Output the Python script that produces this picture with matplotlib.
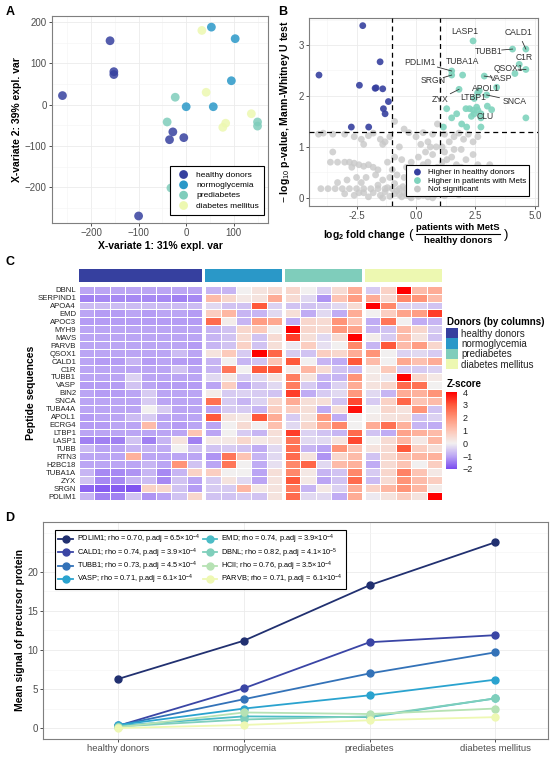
import numpy as np
import matplotlib
matplotlib.use("Agg")
import matplotlib.pyplot as plt
from matplotlib.colors import LinearSegmentedColormap, Normalize
from matplotlib.patches import Rectangle
from matplotlib.lines import Line2D
from matplotlib.ticker import MultipleLocator

plt.rcParams['font.family'] = ['Liberation Sans', 'DejaVu Sans']
plt.rcParams['mathtext.fontset'] = 'custom'
plt.rcParams['mathtext.rm'] = 'Liberation Sans'
plt.rcParams['mathtext.it'] = 'Liberation Sans:italic'
plt.rcParams['mathtext.bf'] = 'Liberation Sans:bold'

W, H = 550, 757

# ---------------- data ----------------
groups = ["healthy donors", "normoglycemia", "prediabetes", "diabetes mellitus"]
group_colors = ["#36409f", "#2a98c8", "#7fcdbb", "#edf8b1"]
group_sizes = [8, 5, 5, 5]

# panel A: sPLS-DA scores
a_healthy_x = [-260, -160, -152, -152, -100, -35, -28, -5]
a_healthy_y = [22, 155, 80, 73, -270, -85, -66, -80]
a_normo_x = [53, 103, 95, 0, 57]
a_normo_y = [188, 160, 58, -5, -5]
a_pred_x = [-23, -40, -32, 150, 150]
a_pred_y = [18, -42, -202, -42, -52]
a_diab_x = [33, 42, 137, 83, 77]
a_diab_y = [180, 30, -22, -45, -55]

# panel B: volcano
b_up_healthy_x = [-4.08, -2.24, -2.38, -1.51, -1.68, -1.72, -1.40, -1.16, -1.37, -1.30, -2.72, -1.99]
b_up_healthy_y = [2.41, 3.38, 2.21, 2.67, 2.16, 2.15, 2.14, 1.89, 1.75, 1.65, 1.39, 1.39]
b_up_mets_x = [2.40, 4.62, 4.06, 4.34, 4.62, 4.16, 1.50, 1.50, 1.96, 2.87, 3.39, 2.66, 2.59,
               1.81, 2.97, 2.45, 2.25, 2.40, 2.55, 1.29, 1.71, 1.50, 1.15, 1.92, 2.13, 2.73,
               2.73, 3.18, 3.00, 4.62, 2.73, 2.33, 2.45, 2.10, 2.60]
b_up_mets_y = [3.08, 2.92, 2.92, 2.62, 2.52, 2.44, 2.49, 2.41, 2.41, 2.39, 2.17, 2.10, 2.06,
               2.13, 2.02, 1.95, 1.75, 1.72, 1.78, 1.75, 1.65, 1.57, 1.39, 1.45, 1.39, 1.65,
               1.57, 1.73, 1.80, 1.57, 1.39, 1.60, 1.65, 1.75, 1.72]
b_ns_x = [-4.1, -3.9, -3.5, -3.0, -2.6, -2.3, -2.0, -1.8, -1.5, -1.3, -1.1, -0.9, -0.5, -0.3, 0.0,
          0.3, 0.5, 0.7, 0.9, 0.85, 0.6, 1.2, 1.4, 1.6, 1.8, 2.0, 2.2, 2.4, 2.6, -1.4, -2.2, -0.7,
          0.2, 1.1, 1.9, 0.4, -3.5,
          -3.6, -3.3, -3.0, -2.8, -2.6, -2.4, -2.2, -2.0, -1.8, -1.6, -1.2, -0.9, -0.6, -0.4, -0.2,
          0.1, 0.3, 0.5, 0.7, 0.9, 1.1, 1.3, 1.5, 1.7, 1.9, 2.1, 2.3, 2.6, 2.8, 3.1, 1.2, 1.6, 2.4,
          -1.0, 0.0, -2.7,
          -3.3, -2.9, -2.5, -2.1, -1.7, -1.4, -1.1, -0.8, -0.5, -0.2, 0.1, 0.4, 0.7, 1.0, 1.3, 1.6,
          1.9, 2.3, 2.7, -1.6, -0.9, -0.3, 0.2, 0.6, -2.3, -1.2, 1.1,
          -4.0, -3.7, -3.4, -3.1, -2.8, -2.5, -2.2, -1.9, -1.6, -1.3, -1.0, -0.7, -0.4,
          -3.0, -2.6, -2.4, -2.0, -1.8, -1.5, -1.3, -1.1, -0.9, -0.8, -0.6, -0.5, -0.4, -0.3, -0.2,
          -0.1, 0.0, 0.1, 0.2, 0.3, 0.4, 0.5, 0.6, 0.8, 1.0, 1.2, 1.5, 1.8, 2.1, -0.7, -0.25, 0.05,
          -2.2, -1.4, 0.7, -0.05, -0.55]
b_ns_y = [1.25, 1.27, 1.25, 1.25, 1.2, 1.15, 1.22, 1.27, 1.15, 1.1, 1.2, 1.5, 1.35, 1.28, 1.2,
          1.28, 1.1, 1.25, 1.45, 1.0, 1.0, 1.25, 1.1, 1.2, 1.27, 1.15, 1.25, 1.1, 1.2, 1.05, 1.05, 1.0,
          1.05, 1.0, 0.95, 0.9, 0.9,
          0.7, 0.7, 0.7, 0.7, 0.68, 0.65, 0.62, 0.65, 0.6, 0.55, 0.7, 0.8, 0.75, 0.6, 0.7,
          0.8, 0.65, 0.7, 0.85, 0.6, 0.7, 0.75, 0.8, 0.65, 0.6, 0.75, 0.55, 0.65, 0.55, 0.65, 0.9, 0.95, 0.85,
          0.55, 0.5, 0.6,
          0.3, 0.35, 0.4, 0.4, 0.45, 0.35, 0.4, 0.45, 0.4, 0.45, 0.35, 0.4, 0.3, 0.45, 0.35, 0.4,
          0.3, 0.3, 0.25, 0.25, 0.28, 0.3, 0.25, 0.2, 0.3, 0.2, 0.25,
          0.18, 0.18, 0.18, 0.18, 0.18, 0.18, 0.18, 0.18, 0.18, 0.18, 0.18, 0.18, 0.18,
          0.08, 0.05, 0.1, 0.02, 0.1, 0.05, 0.12, 0.03, 0.08, 0.14, 0.02, 0.1, 0.05, 0.12, 0.0,
          0.08, 0.14, 0.03, 0.1, 0.05, 0.13, 0.02, 0.09, 0.06, 0.12, 0.04, 0.1, 0.06, 0.1, 0.06, 0.03, 0.06,
          0.1, 0.0, 0.0, 0.2, 0.22]
b_labels = ["LASP1", "CALD1", "TUBB1", "C1R", "QSOX1", "PDLIM1", "TUBA1A", "SRGN", "VASP",
            "APOL1", "ZYX", "LTBP1", "SNCA", "CLU"]
b_label_x = [2.06, 4.29, 3.05, 4.55, 3.90, 0.17, 1.97, 0.71, 3.60, 2.95, 1.00, 2.40, 4.16, 2.90]
b_label_y = [3.27, 3.25, 2.88, 2.76, 2.53, 2.66, 2.68, 2.30, 2.34, 2.15, 1.94, 1.96, 1.90, 1.59]
b_point_x = [2.40, 4.62, 4.06, 4.34, 4.62, 1.50, 1.96, 1.50, 2.87, 2.66, 1.81, 2.59, 2.97, 2.73]
b_point_y = [3.08, 2.92, 2.92, 2.62, 2.52, 2.49, 2.41, 2.41, 2.39, 2.10, 2.13, 2.06, 2.02, 1.65]

# panel C: z-scores, rows = peptides, columns = donors
peptides = ["DBNL", "SERPIND1", "APOA4", "EMD", "APOC3", "MYH9", "MAVS", "PARVB", "QSOX1",
            "CALD1", "C1R", "TUBB1", "VASP", "BIN2", "SNCA", "TUBA4A", "APOL1", "ECRG4",
            "LTBP1", "LASP1", "TUBB", "RTN3", "H2BC18", "TUBA1A", "ZYX", "SRGN", "PDLIM1"]
z_healthy = [
    [-1, -1, -1, -1, -1, -1, -1, -1],
    [-1.4, -1.3, -1.3, -1.3, -1.3, -1.3, -1.4, -1.3],
    [-0.7, -0.7, -0.7, -0.7, -0.7, -0.7, -0.7, -0.7],
    [-1, -1.1, -1.1, -1, -1.1, -1, -1, -1.1],
    [-1.1, -1.1, -1.1, -1.1, -1.1, -1.1, -1.1, -1.1],
    [-1, -1, -1, -1, -1, -1, -1, -1],
    [-1, -1, -1, -1, -1, -1, -1, -1],
    [-1, -1, -1, -1, -1, -1, -1, -1.1],
    [-1, -1, -1, -1, -1, -1, -0.7, -1],
    [-1, -1.1, -1.1, -0.8, -1.1, -1, -1.1, -1.1],
    [-1, -1, -1, -1, -1, -1, -0.6, -1],
    [-1, -1, -1, -0.4, -1, -1, -1, -1],
    [-1.1, -1.1, -1.1, -0.6, -1, -1.1, -1.1, -1.1],
    [-1, -1.1, -1.1, -1, -0.5, -1, -1, -1],
    [-1, -1, -1, -1, -0.5, -1, -1, -1],
    [-1, -1, -1, -1, 0, -0.5, -1, -1],
    [-1.1, -1, -1, -0.7, -0.5, -1, -1, -1],
    [-1.1, -1.1, -1, -1, 1.2, -1, -1.1, -1],
    [-1, -1, -1, -1, -1, -1, -1, 1.0],
    [-1.4, -1.4, -1.4, -0.6, -1.4, -0.8, 0.3, -1.4],
    [-0.7, -1, -1, -0.8, -0.8, -0.9, 0, -0.6],
    [-1, -1, -1, 1.4, -1, -1, -1, -1],
    [-1, -1, -1, -1, -0.8, -1, 2.0, -0.6],
    [-0.8, -1.3, -1.3, -1.2, -0.8, -1.3, -0.8, 0.7],
    [-0.6, -1.3, -1.3, -0.8, -0.7, -1.3, -0.6, -1],
    [-1.7, -1.8, -1.8, -1.9, 0.7, 0.6, -0.6, -1.1],
    [-0.8, -1.4, -1.4, -0.6, -1.2, -1.0, -0.6, 0.6],
]
z_normo = [
    [-0.8, -0.8, 0, 0.3, 0.5],
    [1.2, 0.6, 0.2, 0.3, 1.5],
    [-0.3, -0.6, -0.6, 3, -0.4],
    [0.8, 1.3, -0.8, -0.8, -0.3],
    [2.7, 0.1, -0.8, 1.8, 1.6],
    [-0.8, -0.6, 0.6, 0.9, 0],
    [-0.8, -0.6, 0.5, -0.6, 0.5],
    [-0.8, -0.6, 0.7, -0.6, 0.4],
    [0.3, 0.9, -0.5, 4, 2.8],
    [-0.8, 0, -0.8, -0.6, 1.0],
    [-0.8, 2.5, 0, 3, 3],
    [-0.3, 0.2, -0.5, -0.3, 0.3],
    [-1, 0.8, -1, -0.6, -0.3],
    [0.1, -0.5, -0.4, -0.5, -0.6],
    [2.6, -0.5, -0.8, -0.4, 0.6],
    [-1, -0.5, -0.5, -0.8, 0.8],
    [3.0, 0.3, 0.2, 3, 1.5],
    [-1, 0, 0.5, 0, 1.1],
    [-1, 0, -0.5, -0.8, 0.4],
    [0.2, 0.2, 0.6, 0.2, 0.3],
    [-0.6, -0.5, -0.6, -0.9, -0.3],
    [-1.2, 2.5, 1.0, -0.8, -0.3],
    [-1, 2.5, 0, -0.9, -0.2],
    [0.8, 0, 0, -1, 0.4],
    [-0.5, 0.3, -0.3, -1, 0.3],
    [-0.5, -0.5, 1.3, 0.2, 0.3],
    [-0.6, -0.6, -0.5, -0.6, 0.3],
]
z_pred = [
    [0.6, 0, -0.4, 0.5, 1.5],
    [0.5, -0.3, -1.2, 1, 1.8],
    [-0.6, -0.6, -0.5, -0.3, 0.5],
    [0.4, -0.9, -0.3, -0.9, 1.5],
    [-0.9, 0.6, 0.5, 2, 1],
    [4, 0.6, 0.5, 1.9, 1.7],
    [3.3, 0.4, -0.3, 0.5, 4],
    [-0.1, 0.8, -0.2, 0, 2.2],
    [-0.5, -0.6, 0.8, 0.6, 1.5],
    [3, 0, -0.8, -0.9, 3],
    [0.1, 1.3, 0.5, -0.6, -0.7],
    [2.4, 0.3, -0.8, -0.8, 2],
    [2.4, -0.5, -0.9, -0.4, 1.5],
    [3.3, -0.9, -0.5, -0.3, 1.9],
    [1.5, 0.4, 0.4, -0.6, 3.2],
    [0.8, 0.4, -0.9, 0.4, 3.8],
    [-0.5, 0.3, 1.9, -0.9, 0],
    [-0.3, 0.6, 1.5, 2.2, 0],
    [3.3, -0.4, -0.6, -0.8, 2.7],
    [2.5, -0.3, -0.3, 0.3, 3.2],
    [2.6, -0.8, -1, 2, 1],
    [2.7, 0.3, -1.2, 0.6, 1.2],
    [2.2, 2.8, -0.3, 1.2, 1.4],
    [2.2, 0.2, -0.8, -0.6, 2.2],
    [3, 0.2, -1, -0.6, 2.7],
    [2.4, -0.8, 0.2, -0.4, 1.5],
    [2.7, -0.3, -0.3, -0.9, 1.5],
]
z_diab = [
    [-0.5, 0.7, 4, 1.2, 1.5],
    [1.5, 0.5, 2.2, 2, 1.2],
    [4, 2.2, -0.4, -0.4, -0.6],
    [0, 0.8, 1.7, 1.8, 3.3],
    [-0.9, 2.5, 0, -0.9, -0.8],
    [-0.8, -0.6, 1.2, 0.6, -0.5],
    [0.1, -0.5, 1.2, 0.3, -0.6],
    [-0.8, 3, 1.2, 1.8, 0.6],
    [2, 0, -0.4, -0.3, -0.5],
    [1.2, 0, 1.6, 1.1, 1.5],
    [0.1, 0.9, -0.5, -0.5, -0.4],
    [0.2, -0.1, 4, 0.6, 0.2],
    [0.3, 0.6, 2.7, 2.6, 0],
    [-0.3, -0.8, 1.5, 1.4, 2],
    [-0.5, 0.7, 2.8, 1, 1.2],
    [0, 0.6, 0.3, 2, -0.6],
    [0.1, 0.3, 0.4, -0.6, -0.4],
    [1.5, 2.6, 1.4, -0.8, -0.9],
    [-0.6, -0.9, 1.7, 1.4, 1.2],
    [0, 0.5, 1.3, 0.2, 1.3],
    [0.3, 0.5, 3, 0.8, 0.4],
    [-0.6, 0.6, 1.2, 1.3, 1.4],
    [-0.9, 0.5, 1, 0, 0.8],
    [-0.5, 0.6, 2.3, 1, 0.2],
    [-0.7, 0.5, 2, 1.2, 0.8],
    [0.7, 1.3, 2, 1.3, 0.1],
    [-0.1, 0.3, 0.8, 0.3, 4],
]

# panel D: mean precursor signal per group
d_proteins = ["PDLIM1", "CALD1", "TUBB1", "VASP", "EMD", "DBNL", "HCII", "PARVB"]
d_rho = ["0.70", "0.74", "0.73", "0.71", "0.74", "0.82", "0.76", "0.71"]
d_padj = [r"6.5$\times$10$^{-4}$", r"3.9$\times$10$^{-4}$", r"4.5$\times$10$^{-4}$",
          r"6.1$\times$10$^{-4}$", r"3.9$\times$10$^{-4}$", r"4.1$\times$10$^{-5}$",
          r"3.5$\times$10$^{-4}$", r"6.1$\times$10$^{-4}$"]
d_values = [
    [6.3, 11.2, 18.3, 23.8],
    [0.3, 5.1, 11.0, 11.9],
    [0.35, 3.7, 7.0, 9.7],
    [0.4, 2.5, 4.2, 6.2],
    [0.3, 1.5, 1.4, 3.8],
    [0.2, 1.1, 1.5, 3.8],
    [0.1, 2.0, 1.8, 2.5],
    [0.0, 0.4, 1.0, 1.4],
]
d_colors = ["#213070", "#3a45a5", "#3372b8", "#2aa3cf", "#4cbcc6", "#7fcfbb", "#b6e2b4", "#eef8b3"]


# ---------------- helpers ----------------
fig = plt.figure(figsize=(W / 100, H / 100), dpi=100)


def px_axes(left, top, right, bottom):
    return fig.add_axes([left / W, 1 - bottom / H, (right - left) / W, (bottom - top) / H])


def bw(ax):
    ax.set_facecolor("white")
    for s in ax.spines.values():
        s.set_color("#7f7f7f")
        s.set_linewidth(0.8)
    ax.grid(True, which="major", color="#ebebeb", lw=0.6)
    ax.grid(True, which="minor", color="#f4f4f4", lw=0.4)
    ax.set_axisbelow(True)
    ax.tick_params(which="major", length=2.5, width=0.6, color="#333333",
                   labelcolor="#4d4d4d", labelsize=7, pad=1.2)
    ax.tick_params(which="minor", length=0)


def ftext(x, y, s, **kw):
    fig.text(x / W, 1 - y / H, s, **kw)


# ---------------- panel A ----------------
axA = px_axes(52, 16, 268, 223)
bw(axA)
for gx, gy, col, lab in zip([a_healthy_x, a_normo_x, a_pred_x, a_diab_x],
                            [a_healthy_y, a_normo_y, a_pred_y, a_diab_y],
                            group_colors, groups):
    axA.scatter(gx, gy, s=40, color=col, alpha=0.85, edgecolors="none", label=lab, zorder=3)
axA.set_xlim(-282, 172)
axA.set_ylim(-287, 215)
axA.set_xticks([-200, -100, 0, 100])
axA.set_yticks([-200, -100, 0, 100, 200])
axA.xaxis.set_minor_locator(MultipleLocator(50))
axA.yaxis.set_minor_locator(MultipleLocator(50))
leg = axA.legend(loc="lower right", fontsize=6.0, frameon=True, fancybox=False,
                 handletextpad=0.5, borderpad=0.6, labelspacing=0.3,
                 bbox_to_anchor=(1.0, 0.02), markerscale=1.0, framealpha=1)
leg.get_frame().set_edgecolor("black")
leg.get_frame().set_linewidth(0.8)
for h in leg.legend_handles:
    h.set_alpha(1)
ftext(160, 246, "X-variate 1: 31% expl. var", ha="center", va="center", fontsize=7.5, fontweight="bold")
ftext(17, 120, "X-variate 2: 39% expl. var", ha="center", va="center", fontsize=7.5,
      fontweight="bold", rotation=90)

# ---------------- panel B ----------------
axB = px_axes(309, 18, 538, 206)
bw(axB)
axB.scatter(b_ns_x, b_ns_y, s=24, color="#c8c8c8", alpha=0.8, edgecolors="none", zorder=2,
            label="Not significant")
axB.scatter(b_up_healthy_x, b_up_healthy_y, s=24, color="#36409f", alpha=0.9, edgecolors="none",
            zorder=3, label="Higher in healthy donors")
axB.scatter(b_up_mets_x, b_up_mets_y, s=24, color="#7fd3bd", alpha=0.9, edgecolors="none",
            zorder=3, label="Higher in patients with Mets")
axB.axvline(-1, color="black", ls=(0, (4, 3)), lw=0.9, zorder=4)
axB.axvline(1, color="black", ls=(0, (4, 3)), lw=0.9, zorder=4)
axB.axhline(-np.log10(0.05), color="black", ls=(0, (4, 3)), lw=0.9, zorder=4)
for lab, tx, ty, px_, py_ in zip(b_labels, b_label_x, b_label_y, b_point_x, b_point_y):
    axB.text(tx, ty, lab, fontsize=6.2, ha="center", va="center", color="#333333", zorder=5)
    d = np.hypot((tx - px_) * 23.8, (ty - py_) * 51)
    if d > 14:
        # leader line from label edge to point
        fx = tx + (px_ - tx) * 0.55
        fy = ty + (py_ - ty) * 0.55
        axB.plot([fx, px_], [fy, py_], color="#333333", lw=0.6, zorder=4)
axB.set_xlim(-4.5, 5.13)
axB.set_ylim(-0.16, 3.53)
axB.set_xticks([-2.5, 0, 2.5, 5.0])
axB.set_xticklabels(["-2.5", "0.0", "2.5", "5.0"])
axB.set_yticks([0, 1, 2, 3])
axB.xaxis.set_minor_locator(MultipleLocator(1.25))
axB.yaxis.set_minor_locator(MultipleLocator(0.5))
hB, lB = axB.get_legend_handles_labels()
legB = axB.legend([hB[1], hB[2], hB[0]], [lB[1], lB[2], lB[0]], loc="lower right", fontsize=5.8,
                  frameon=True, fancybox=False, handletextpad=0.3, borderpad=0.4,
                  labelspacing=0.1, bbox_to_anchor=(0.98, 0.03), framealpha=1)
legB.get_frame().set_edgecolor("black")
legB.get_frame().set_linewidth(0.8)
for h in legB.legend_handles:
    h.set_alpha(1)
ftext(285, 112, r"$-$ log$_{10}$ p-value, Mann-Whitney U test", ha="center", va="center",
      fontsize=7.5, fontweight="bold", rotation=90)
# x label with a stacked fraction
ftext(406, 235, r"$\mathbf{log_2}$ fold change", ha="right", va="center", fontsize=7.5,
      fontweight="bold")
ftext(410, 235, "(", ha="center", va="center", fontsize=9.5)
ftext(458, 228, "patients with MetS", ha="center", va="center", fontsize=6.8, fontweight="bold")
fig.add_artist(Line2D([416 / W, 500 / W], [1 - 234 / H, 1 - 234 / H], color="black", lw=0.8))
ftext(458, 241, "healthy donors", ha="center", va="center", fontsize=6.8, fontweight="bold")
ftext(506, 235, ")", ha="center", va="center", fontsize=9.5)

# ---------------- panel C ----------------
cmap = LinearSegmentedColormap.from_list(
    "zs", [(0.0, "#7b4cf0"), (1 / 6, "#bca6f4"), (2 / 6, "#f2f0f0"), (3 / 6, "#fdc5b5"),
           (4 / 6, "#ff9478"), (5 / 6, "#ff5a3c"), (1.0, "#ff0000")])
norm = Normalize(vmin=-2, vmax=4)
axC = px_axes(79, 269, 442, 500)
gap = 0.2
c0 = 0.0
for g, (zg, n, col) in enumerate(zip([z_healthy, z_normo, z_pred, z_diab], group_sizes, group_colors)):
    xe = c0 + np.arange(n + 1)
    ye = np.arange(len(peptides) + 1)
    axC.pcolormesh(xe, ye, np.array(zg), cmap=cmap, norm=norm, edgecolors="white", linewidth=0.6)
    axC.add_patch(Rectangle((c0, -2.1), n, 1.6, facecolor=col, edgecolor="none"))
    c0 += n + gap
axC.set_xlim(0, c0 - gap)
axC.set_ylim(len(peptides), -2.1)
axC.set_xticks([])
axC.set_yticks(np.arange(len(peptides)) + 0.5)
axC.set_yticklabels(peptides, fontsize=5.6, color="#222222")
axC.tick_params(axis="y", length=0, pad=2)
for s in axC.spines.values():
    s.set_visible(False)
ftext(31, 393, "Peptide sequences", ha="center", va="center", fontsize=7.5,
      fontweight="bold", rotation=90)

# legends of panel C
ftext(447, 322, "Donors (by columns)", ha="left", va="center", fontsize=7, fontweight="bold")
axL = px_axes(446, 328, 458, 369)
axL.barh(np.arange(4), [1] * 4, height=1.0, color=group_colors, left=0)
axL.set_xlim(0, 1)
axL.set_ylim(3.5, -0.5)
axL.axis("off")
for i, lab in enumerate(groups):
    ftext(461, 334 + i * 10.2, lab, ha="left", va="center", fontsize=7, color="#222222")
ftext(447, 384, "Z-score", ha="left", va="center", fontsize=7, fontweight="bold")
axCB = px_axes(446, 392, 457, 469)
cb = fig.colorbar(plt.cm.ScalarMappable(norm=norm, cmap=cmap), cax=axCB)
cb.outline.set_visible(False)
cb.set_ticks([-2, -1, 0, 1, 2, 3, 4])
cb.set_ticklabels(["\u22122", "\u22121", "0", "1", "2", "3", "4"])
axCB.tick_params(length=2, width=0.6, color="white", labelsize=6.5, pad=2, labelcolor="#222222")

# ---------------- panel D ----------------
axD = px_axes(43, 522, 548, 739)
bw(axD)
xpos = np.arange(len(groups))
handles = []
for prot, rho, padj, vals, col in zip(d_proteins, d_rho, d_padj, d_values, d_colors):
    ln, = axD.plot(xpos, vals, color=col, lw=1.3, marker="o", markersize=5,
                   label=f"{prot}; rho = {rho}, p.adj = {padj}", zorder=3)
    handles.append(ln)
axD.set_xlim(-0.6, 3.42)
axD.set_ylim(-1.4, 26.4)
axD.set_xticks(xpos)
axD.set_xticklabels(groups)
axD.set_yticks([0, 5, 10, 15, 20])
axD.yaxis.set_minor_locator(MultipleLocator(2.5))
axD.tick_params(axis="x", labelsize=6.8)
legD = axD.legend(handles=handles, loc="upper left", ncol=2, fontsize=5.3, frameon=True,
                  fancybox=False, bbox_to_anchor=(0.017, 0.98), handlelength=2.0,
                  handletextpad=0.5, columnspacing=0.4, labelspacing=0.0, borderpad=0.4,
                  framealpha=1)
legD.get_frame().set_edgecolor("black")
legD.get_frame().set_linewidth(0.8)
ftext(20, 630, "Mean signal of precursor protein", ha="center", va="center", fontsize=7.5,
      fontweight="bold", rotation=90)

# panel letters
for lab, x, y in [("A", 10, 12), ("B", 283, 12), ("C", 10, 262), ("D", 10, 518)]:
    ftext(x, y, lab, ha="center", va="center", fontsize=9, fontweight="bold")

fig.savefig("out.png", dpi=100)
